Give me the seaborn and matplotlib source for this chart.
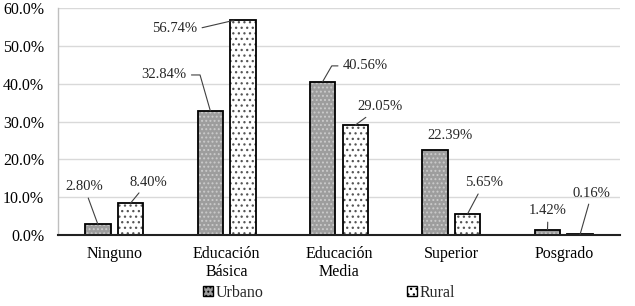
import matplotlib
matplotlib.use("Agg")
import matplotlib.pyplot as plt
import seaborn as sns
import pandas as pd
from matplotlib.patches import Rectangle, Patch

categories = ["Ninguno", "Educación\nBásica", "Educación\nMedia", "Superior", "Posgrado"]
series = ["Urbano", "Rural"]
urbano = [2.80, 32.84, 40.56, 22.39, 1.42]
rural = [8.40, 56.74, 29.05, 5.65, 0.16]
yticks = [0, 10, 20, 30, 40, 50, 60]

# label text positions (data coords)
urb_text_pos = [(-0.267, 12.7), (0.445, 42.3), (2.233, 44.7), (2.99, 26.2), (3.86, 6.35)]
rur_text_pos = [(0.30, 14.0), (0.54, 54.5), (2.367, 33.9), (3.29, 13.75), (4.25, 11.1)]

df = pd.DataFrame({
    "cat": categories * 2,
    "serie": [series[0]] * 5 + [series[1]] * 5,
    "val": urbano + rural,
})

sns.set_theme(style="white")
plt.rcParams["font.family"] = ["Liberation Serif", "DejaVu Serif"]
plt.rcParams["hatch.linewidth"] = 0.9

fig = plt.figure(figsize=(6.35, 3.06), dpi=100)
ax = fig.add_axes([58 / 635, 1 - 235 / 306, (620 - 58) / 635, (235 - 8) / 306])

sns.barplot(data=df, x="cat", y="val", hue="serie", order=categories, hue_order=series,
            width=0.58, gap=0.22, ax=ax, legend=False, zorder=3)

styles = {
    "Urbano": dict(face="#9d9d9d", hatchc="#cbcbcb", hatch="...."),
    "Rural": dict(face="white", hatchc="#555555", hatch="..."),
}
containers = ax.containers
for cont, s in zip(containers, series):
    st = styles[s]
    for bar in cont:
        bar.set_facecolor(st["face"])
        bar.set_edgecolor(st["hatchc"])
        bar.set_hatch(st["hatch"])
        bar.set_linewidth(0)
        ax.add_patch(Rectangle((bar.get_x(), bar.get_y()), bar.get_width(), bar.get_height(),
                               fill=False, edgecolor="black", linewidth=1.3, zorder=4))

ax.set_ylim(0, 60)
ax.set_xlim(-0.5, 4.5)
ax.set_yticks(yticks)
ax.set_yticklabels([f"{v:.1f}%" for v in yticks], fontsize=11.5)
ax.set_xticks(range(len(categories)))
ax.set_xticklabels(categories, fontsize=11.5, linespacing=1.15)
ax.set_xlabel("")
ax.set_ylabel("")
ax.tick_params(axis="both", length=0, colors="black")
ax.tick_params(axis="y", pad=10)
ax.tick_params(axis="x", pad=8)
ax.yaxis.grid(True, color="#d9d9d9", linewidth=1, zorder=0)
ax.set_axisbelow(True)
for side in ["top", "right"]:
    ax.spines[side].set_visible(False)
ax.spines["left"].set_color("#bfbfbf")
ax.spines["left"].set_linewidth(1)
ax.spines["bottom"].set_color("#222222")
ax.spines["bottom"].set_linewidth(1.5)
ax.spines["bottom"].set_zorder(5)

urb_bars = list(containers[0])
rur_bars = list(containers[1])

def center(bar):
    return bar.get_x() + bar.get_width() / 2

line_kw = dict(arrowstyle="-", color="#404040", lw=0.8, shrinkA=1, shrinkB=0)

def lab(v, bar, pos, conn=None, relpos=(0.5, 0.5), leader=True, xshift=0.0):
    txt = f"{v:.2f}%"
    if not leader:
        ax.text(pos[0], pos[1], txt, ha="center", va="center", fontsize=10.5, zorder=6)
        return
    ap = dict(line_kw)
    ap["relpos"] = relpos
    if conn:
        ap["connectionstyle"] = conn
    ax.annotate(txt, xy=(center(bar) + xshift, v), xytext=pos, textcoords="data",
                ha="center", va="center", fontsize=10.5, arrowprops=ap, zorder=6)

lab(urbano[0], urb_bars[0], urb_text_pos[0])
lab(urbano[1], urb_bars[1], urb_text_pos[1], conn="angle,angleA=0,angleB=106,rad=0", relpos=(1, 0.5))
lab(urbano[2], urb_bars[2], urb_text_pos[2], conn="angle,angleA=180,angleB=60,rad=0", relpos=(0, 0.5))
lab(urbano[3], urb_bars[3], urb_text_pos[3], leader=False)
lab(urbano[4], urb_bars[4], urb_text_pos[4])
lab(rural[0], rur_bars[0], rur_text_pos[0])
lab(rural[1], rur_bars[1], rur_text_pos[1], relpos=(1, 0.5), xshift=-0.08)
lab(rural[2], rur_bars[2], rur_text_pos[2])
lab(rural[3], rur_bars[3], rur_text_pos[3])
lab(rural[4], rur_bars[4], rur_text_pos[4])

handles = [
    Patch(facecolor=styles["Urbano"]["face"], edgecolor="black", hatch="....", linewidth=1),
    Patch(facecolor="white", edgecolor="black", hatch="...", linewidth=1),
]
fig.legend(handles, series, loc="center", bbox_to_anchor=(0.518, 0.044), ncol=2,
           frameon=False, fontsize=11.5, handlelength=0.65, handleheight=0.65,
           handletextpad=0.15, columnspacing=9.0, borderpad=0)

fig.savefig("out.png", dpi=100, facecolor="white")
